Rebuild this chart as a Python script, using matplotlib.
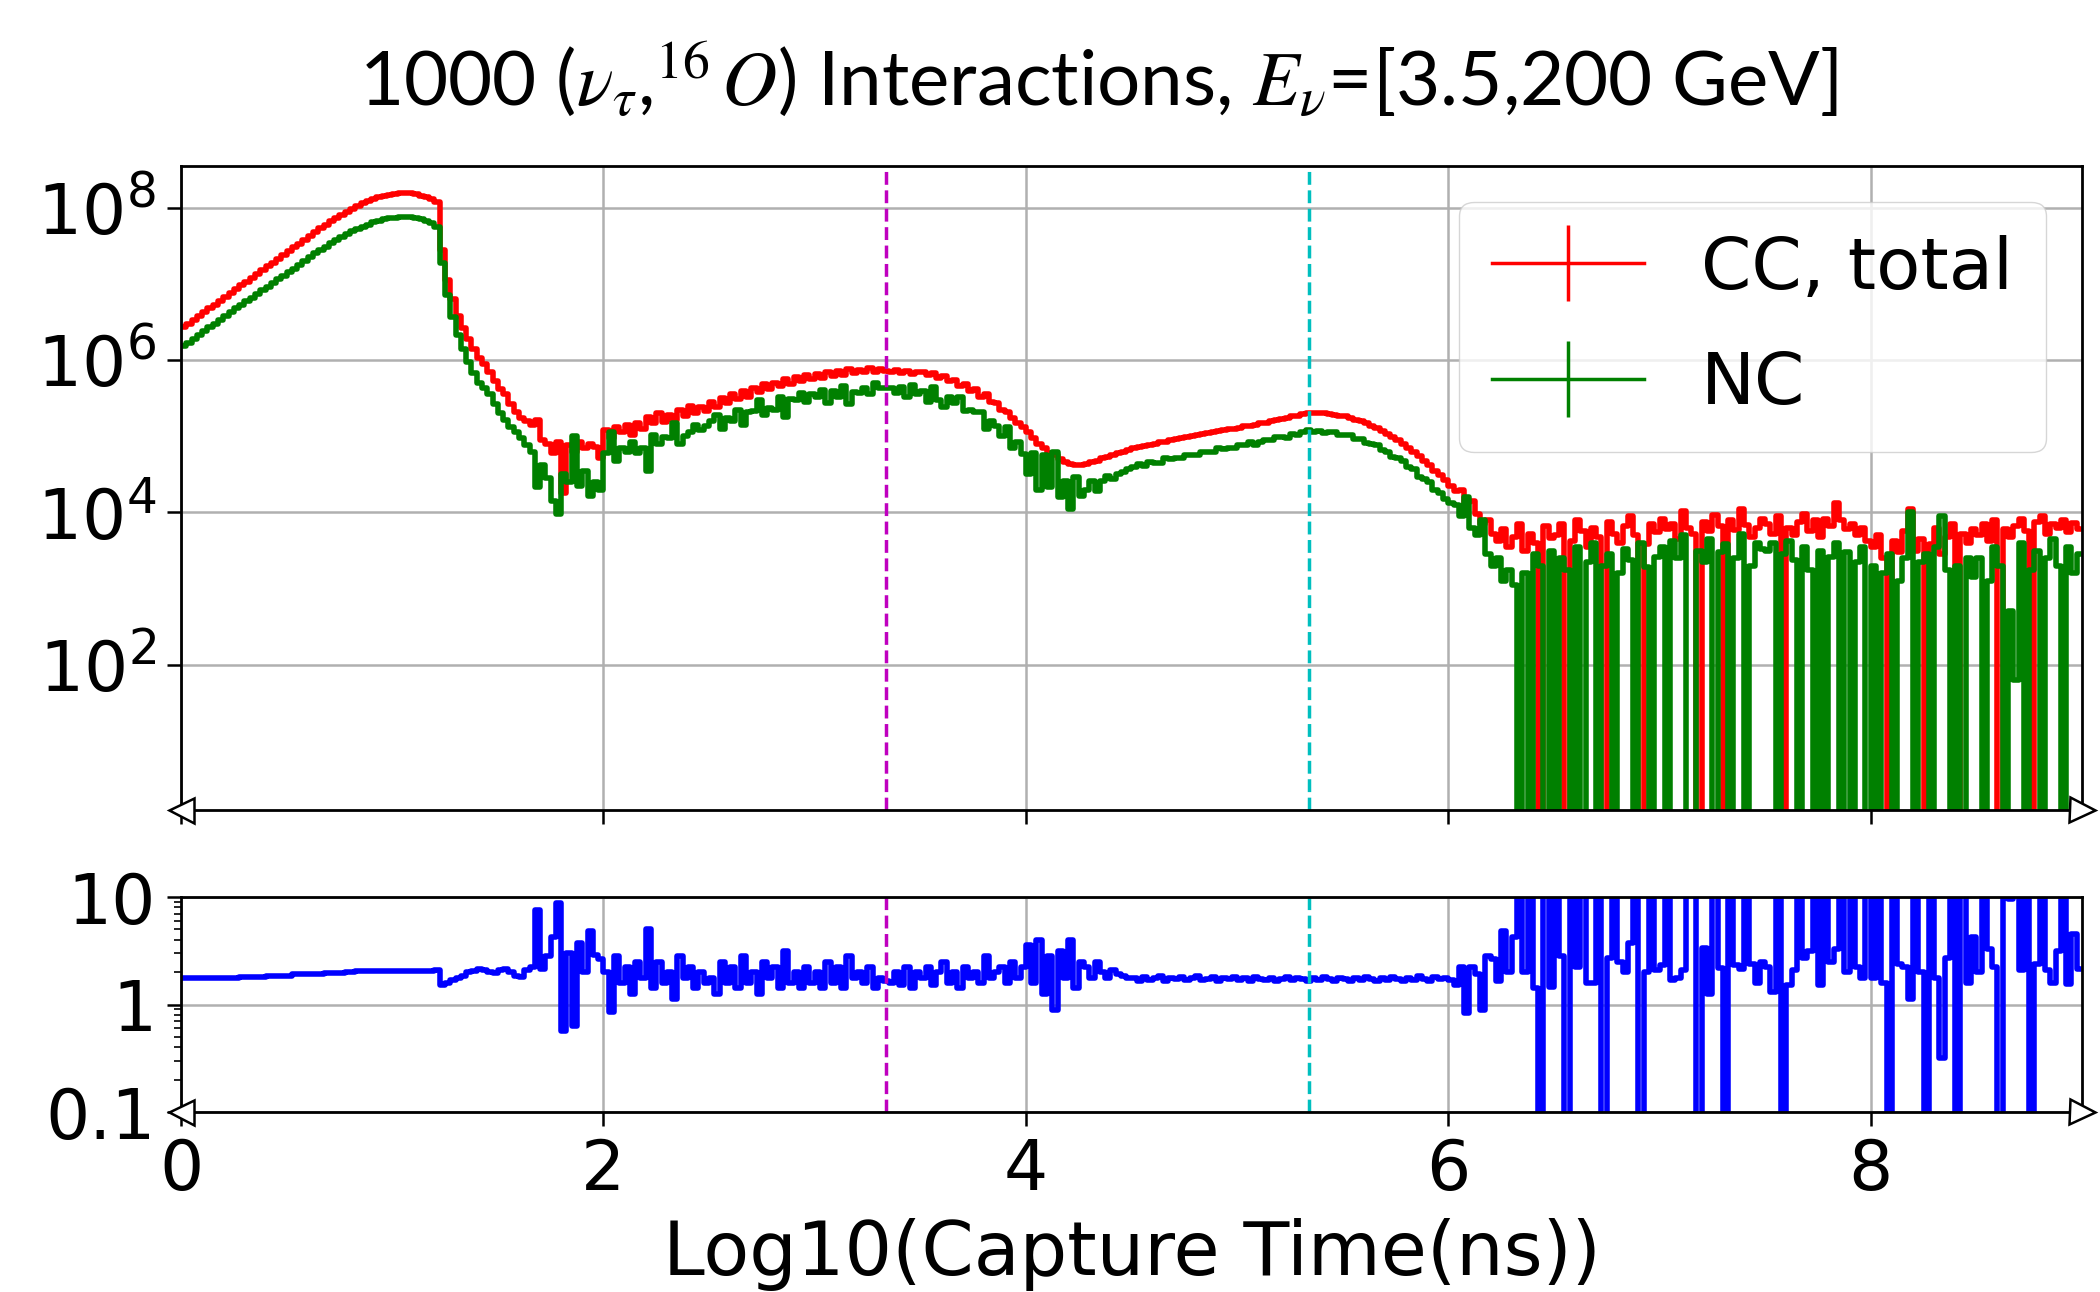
import numpy as np
import matplotlib.pyplot as plt
from matplotlib.lines import Line2D
from matplotlib.ticker import NullLocator, NullFormatter

plt.rcParams['mathtext.fontset'] = 'stix'

# log10 of the bin contents, 0.025-wide bins from 0 to 9 (20 bins per row).
# None marks an empty bin.
bin_width = 0.025
cc_log = [
    6.43, 6.48, 6.53, 6.58, 6.63, 6.68, 6.73, 6.78, 6.83, 6.88, 6.93, 6.98, 7.03, 7.08, 7.13, 7.18, 7.23, 7.28, 7.33, 7.38,
    7.43, 7.48, 7.53, 7.58, 7.63, 7.68, 7.73, 7.78, 7.83, 7.87, 7.91, 7.95, 7.99, 8.03, 8.06, 8.09, 8.12, 8.14, 8.16, 8.17,
    8.18, 8.19, 8.19, 8.19, 8.18, 8.16, 8.14, 8.11, 8.07, 7.45, 7.05, 6.80, 6.58, 6.42, 6.28, 6.14, 6.03, 5.95, 5.85, 5.72,
    5.62, 5.55, 5.42, 5.32, 5.24, 5.20, 5.15, 5.22, 4.95, 4.90, 4.78, 4.92, 4.25, 4.88, 4.80, 4.92, 4.85, 4.90, 4.86, 4.72,
    5.08, 4.98, 5.12, 5.05, 5.15, 5.02, 5.18, 5.10, 5.25, 5.17, 5.30, 5.19, 5.28, 5.22, 5.35, 5.26, 5.40, 5.30, 5.38, 5.33,
    5.45, 5.38, 5.50, 5.44, 5.55, 5.49, 5.60, 5.52, 5.63, 5.58, 5.68, 5.62, 5.70, 5.66, 5.75, 5.69, 5.78, 5.72, 5.80, 5.75,
    5.82, 5.76, 5.84, 5.79, 5.86, 5.81, 5.88, 5.83, 5.87, 5.84, 5.90, 5.85, 5.88, 5.86, 5.84, 5.87, 5.83, 5.86, 5.82, 5.85,
    5.84, 5.80, 5.83, 5.77, 5.79, 5.72, 5.74, 5.66, 5.68, 5.60, 5.62, 5.52, 5.55, 5.45, 5.44, 5.35, 5.32, 5.24, 5.18, 5.12,
    5.05, 4.98, 4.90, 4.85, 4.78, 4.75, 4.70, 4.66, 4.64, 4.62, 4.62, 4.64, 4.66, 4.68, 4.71, 4.73, 4.76, 4.78, 4.80, 4.82,
    4.84, 4.86, 4.87, 4.89, 4.90, 4.92, 4.93, 4.95, 4.96, 4.98, 4.99, 5.01, 5.02, 5.03, 5.04, 5.06, 5.07, 5.08, 5.09, 5.10,
    5.11, 5.13, 5.14, 5.15, 5.17, 5.18, 5.20, 5.21, 5.23, 5.24, 5.26, 5.27, 5.29, 5.30, 5.31, 5.30, 5.30, 5.29, 5.28, 5.27,
    5.26, 5.24, 5.22, 5.20, 5.17, 5.14, 5.11, 5.07, 5.03, 4.99, 4.95, 4.90, 4.85, 4.80, 4.74, 4.68, 4.62, 4.55, 4.49, 4.42,
    4.35, 4.28, 4.30, 4.12, 4.15, 3.98, 3.85, 3.90, 3.72, 3.62, 3.78, 3.55, 3.68, 3.85, 3.50, 3.72, 3.60, None, 3.82, 3.66,
    3.70, 3.85, None, 3.62, 3.90, 3.75, 3.55, 3.80, 3.68, None, 3.88, 3.72, 3.60, 3.82, 3.95, 3.70, None, 3.58, 3.85, 3.74,
    3.92, 3.78, 3.85, 3.65, 4.02, 3.80, 3.72, None, 3.88, 3.75, 3.96, 3.82, None, 3.90, 3.77, 4.05, 3.84, 3.68, 3.80, 3.92,
    3.85, 3.72, 3.95, None, 3.80, 3.70, 3.88, 3.98, 3.75, 3.90, 3.68, 3.92, 3.82, 4.12, 3.90, 3.78, 3.85, 3.70, 3.80, 3.62,
    3.55, 3.70, 3.40, None, 3.62, 3.48, 3.75, 4.05, 3.50, 3.65, None, 3.58, 3.80, 3.45, 3.68, 3.85, None, 3.72, 3.60, 3.78,
    3.70, 3.85, 3.62, 3.90, None, 3.78, 3.68, 3.82, 3.92, 3.75, None, 3.88, 3.95, 3.72, 3.85, 3.80, 3.90, 3.74, 3.86, 3.78,
]
nc_log = [
    6.18, 6.23, 6.28, 6.33, 6.38, 6.43, 6.48, 6.53, 6.58, 6.63, 6.68, 6.72, 6.77, 6.82, 6.87, 6.92, 6.96, 7.01, 7.06, 7.11,
    7.16, 7.20, 7.25, 7.30, 7.35, 7.40, 7.45, 7.49, 7.54, 7.58, 7.62, 7.65, 7.69, 7.72, 7.75, 7.78, 7.81, 7.83, 7.85, 7.86,
    7.87, 7.88, 7.88, 7.88, 7.87, 7.85, 7.83, 7.80, 7.75, 7.27, 6.85, 6.57, 6.33, 6.15, 5.98, 5.83, 5.70, 5.63, 5.55, 5.43,
    5.30, 5.22, 5.12, 5.05, 4.98, 4.88, 4.80, 4.34, 4.62, 4.45, 4.15, 3.98, 4.50, 4.40, 5.00, 4.35, 4.55, 4.22, 4.40, 4.30,
    4.78, 5.05, 4.67, 4.85, 4.80, 4.92, 4.78, 4.85, 4.55, 5.02, 4.90, 4.99, 4.98, 5.17, 4.90, 5.01, 5.05, 5.15, 5.08, 5.13,
    5.20, 5.28, 5.10, 5.24, 5.20, 5.34, 5.15, 5.32, 5.33, 5.48, 5.28, 5.37, 5.35, 5.51, 5.25, 5.49, 5.48, 5.57, 5.45, 5.55,
    5.52, 5.61, 5.44, 5.59, 5.51, 5.66, 5.43, 5.58, 5.57, 5.64, 5.55, 5.70, 5.63, 5.64, 5.64, 5.57, 5.65, 5.51, 5.67, 5.55,
    5.59, 5.45, 5.65, 5.47, 5.39, 5.52, 5.44, 5.51, 5.33, 5.35, 5.32, 5.32, 5.10, 5.20, 5.14, 5.00, 5.12, 4.84, 4.93, 4.77,
    4.50, 4.78, 4.30, 4.75, 4.33, 4.80, 4.20, 4.41, 4.04, 4.47, 4.22, 4.29, 4.41, 4.28, 4.41, 4.48, 4.44, 4.50, 4.53, 4.57,
    4.59, 4.64, 4.61, 4.66, 4.65, 4.65, 4.71, 4.70, 4.72, 4.72, 4.76, 4.76, 4.75, 4.80, 4.80, 4.80, 4.85, 4.83, 4.85, 4.84,
    4.88, 4.88, 4.92, 4.89, 4.93, 4.95, 4.95, 4.99, 4.99, 4.98, 5.03, 5.02, 5.05, 5.08, 5.06, 5.07, 5.04, 5.05, 5.06, 5.02,
    5.02, 5.02, 4.97, 4.97, 4.91, 4.90, 4.89, 4.82, 4.80, 4.73, 4.71, 4.68, 4.60, 4.57, 4.47, 4.44, 4.40, 4.29, 4.25, 4.17,
    4.12, 4.10, 3.95, 4.20, 3.80, 3.70, 3.90, 3.45, 3.30, 3.40, 3.10, 3.25, 3.05, None, 3.20, None, 3.45, 3.30, None, 3.50,
    None, 3.40, 3.25, None, 3.55, None, 3.35, 3.60, None, 3.30, 3.45, None, 3.20, 3.52, 3.38, None, 3.60, 3.28, None, 3.42,
    3.55, None, 3.62, 3.40, 3.70, None, None, 3.50, 3.35, 3.65, None, 3.48, 3.58, None, 3.40, 3.72, None, 3.30, 3.60, 3.52,
    3.50, 3.60, None, 3.45, 3.62, 3.38, None, 3.55, 3.25, None, 3.50, None, 3.42, 3.60, None, 3.48, None, 3.35, 3.55, None,
    3.30, None, 3.20, 3.45, None, 3.10, 3.40, 4.00, None, 3.35, 3.45, None, 3.55, 3.95, 3.25, None, 3.30, None, 3.40, 3.15,
    3.40, None, 3.10, 3.55, 3.30, None, 2.70, 1.80, 3.60, None, 3.25, 3.50, None, 3.40, 3.65, 3.30, None, 3.55, 3.20, 3.45,
]

legend_labels = ['CC, total', 'NC']
marker_times = [3.34, 5.34]   # dashed reference lines
marker_colors = ['m', 'c']


def to_counts(logs):
    return np.array([0.0 if v is None else 10.0 ** v for v in logs])


cc = to_counts(cc_log)
nc = to_counts(nc_log)
centers = (np.arange(len(cc)) + 0.5) * bin_width

# CC / NC, off-scale where NC is empty
ratio = np.full(len(cc), np.nan)
ok = nc > 0
ratio[ok] = cc[ok] / nc[ok]
ratio[(nc == 0) & (cc > 0)] = 1e3

fig = plt.figure(figsize=(21, 12.92), dpi=100)
ax1 = fig.add_axes([0.0862, 0.3731, 0.9052, 0.4985])
ax2 = fig.add_axes([0.0862, 0.1393, 0.9052, 0.1664], sharex=ax1)

ax1.plot(centers, cc, color='red', lw=4, drawstyle='steps-mid')
ax1.plot(centers, nc, color='green', lw=4, drawstyle='steps-mid')
ax1.set_yscale('log')
ax1.set_ylim(1.24, 3.55e8)
ax1.set_yticks([1e2, 1e4, 1e6, 1e8])
ax1.yaxis.set_minor_locator(NullLocator())

ax2.plot(centers, ratio, color='blue', lw=4, drawstyle='steps-mid')
ax2.set_yscale('log')
ax2.set_ylim(0.1, 10)
ax2.set_yticks([0.1, 1, 10])
ax2.set_yticklabels(['0.1', '1', '10'])
ax2.yaxis.set_minor_formatter(NullFormatter())

ax1.set_xlim(0, 9)
ax2.set_xticks([0, 2, 4, 6, 8])
ax1.tick_params(labelbottom=False)
ax2.set_xlabel('Log10(Capture Time(ns))', fontsize=54, labelpad=10)

for ax in (ax1, ax2):
    for t, c in zip(marker_times, marker_colors):
        ax.axvline(t, color=c, ls='--', lw=2.5)
    ax.grid(True, which='major', color='#b0b0b0', lw=1.8)
    ax.tick_params(which='major', labelsize=50, length=10, width=1.8, pad=8)
    ax.tick_params(which='minor', length=5, width=1.2)
    for s in ax.spines.values():
        s.set_linewidth(2)
        s.set_color('black')
    # open arrowheads at both ends of the x axis
    ax.plot([0], [0], marker='<', ms=18, mfc='white', mec='black', mew=1.8,
            transform=ax.transAxes, clip_on=False, zorder=6)
    ax.plot([1], [0], marker='>', ms=18, mfc='white', mec='black', mew=1.8,
            transform=ax.transAxes, clip_on=False, zorder=6)

handles = [Line2D([], [], color='red', lw=2.5, marker='|', ms=55, mew=2.5),
           Line2D([], [], color='green', lw=2.5, marker='|', ms=55, mew=2.5)]
ax1.legend(handles, legend_labels, loc='upper right', fontsize=52,
           handlelength=2.1, handletextpad=0.8, borderpad=0.45,
           labelspacing=0.65, borderaxespad=0.5)

fig.text(0.523, 0.938,
         r'1000 ($\nu_\tau$,$^{16}\,O$) Interactions, $E_\nu$=[3.5,200 GeV]',
         ha='center', va='center', fontsize=55, family='Lato')

fig.savefig('out.png', dpi=100)
